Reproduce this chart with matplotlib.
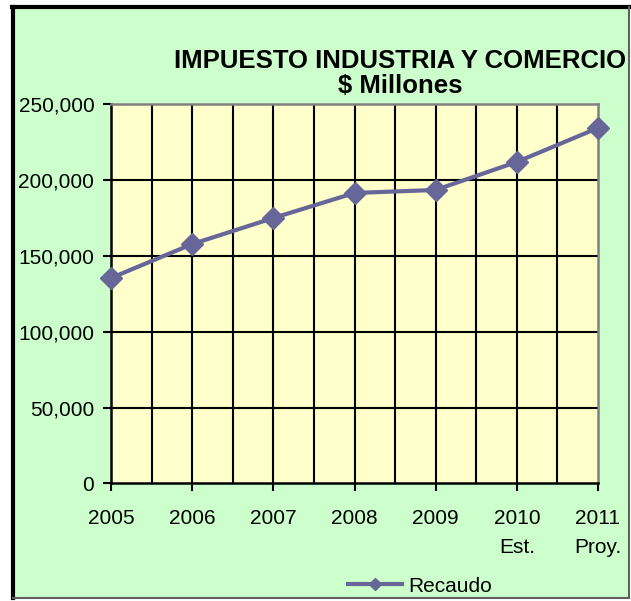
import matplotlib
matplotlib.use("Agg")
import matplotlib.pyplot as plt
from matplotlib.patches import Rectangle
from matplotlib.lines import Line2D

plt.rcParams['font.family'] = ['Liberation Sans', 'DejaVu Sans']

years = ["2005", "2006", "2007", "2008", "2009", "2010\nEst.", "2011\nProy."]
recaudo = [135400, 157800, 175000, 191500, 193500, 212000, 234400]
y_ticks = [0, 50000, 100000, 150000, 200000, 250000]
title_line1 = "IMPUESTO INDUSTRIA Y COMERCIO"
title_line2 = "$ Millones"
series_name = "Recaudo"

W, H = 631, 601
fig = plt.figure(figsize=(W / 100, H / 100), dpi=100)
fig.patch.set_facecolor("white")

def fx(px):
    return px / W

def fy(py):
    return 1 - py / H

# green chart area with border
fig.patches.append(Rectangle((fx(13), fy(598)), fx(629) - fx(13), fy(7) - fy(598),
                             transform=fig.transFigure, facecolor="#CCFFCC",
                             edgecolor="none", zorder=-5))
fig.add_artist(Line2D([fx(13), fx(13)], [fy(598), fy(7)], color="black", lw=3, transform=fig.transFigure))
fig.add_artist(Line2D([fx(11.5), fx(629)], [fy(7), fy(7)], color="black", lw=3, transform=fig.transFigure))
fig.add_artist(Line2D([fx(629), fx(629)], [fy(598), fy(7)], color="#606060", lw=1.5, transform=fig.transFigure))
fig.add_artist(Line2D([fx(13), fx(629)], [fy(598), fy(598)], color="#606060", lw=1.5, transform=fig.transFigure))

ax = fig.add_axes([fx(111), fy(483.3), fx(598) - fx(111), fy(104.3) - fy(483.3)])
ax.set_facecolor("#FFFFCC")
ax.set_zorder(1)

x = list(range(len(years)))
ax.set_xlim(0, len(years) - 1)
ax.set_ylim(0, 250000)

# grid
for v in [i * 0.5 for i in range(1, 2 * (len(years) - 1))]:
    ax.axvline(v, color="black", lw=1.5, zorder=1)
for t in y_ticks[1:-1]:
    ax.axhline(t, color="black", lw=1.5, zorder=1)

line, = ax.plot(x, recaudo, color="#666699", lw=3, marker="D", markersize=11,
                markerfacecolor="#666699", markeredgecolor="#666699",
                clip_on=False, zorder=5, label=series_name)

ax.set_xticks(x)
ax.set_xticklabels(years, fontsize=15, linespacing=1.65, va="top")
ax.set_yticks(y_ticks)
ax.set_yticklabels([f"{t:,}" for t in y_ticks], fontsize=15)
ax.tick_params(axis="x", length=6, width=1.5, pad=12.5, color="black")
ax.tick_params(axis="y", length=6, width=1.5, pad=6, color="black")

for s in ["left", "bottom"]:
    ax.spines[s].set_color("black")
    ax.spines[s].set_linewidth(1.8)
for s in ["top", "right"]:
    ax.spines[s].set_color("#808080")
    ax.spines[s].set_linewidth(1.8)

fig.text(fx(400), fy(61), title_line1, fontsize=18.5, fontweight="bold",
         ha="center", va="center")
fig.text(fx(400), fy(86), title_line2, fontsize=18.5, fontweight="bold",
         ha="center", va="center")

leg = fig.legend(handles=[line], loc="center", bbox_to_anchor=(fx(420), fy(586)),
                 frameon=False, fontsize=15, handlelength=2.6, handletextpad=0.3,
                 markerscale=0.6, borderpad=0, borderaxespad=0)

fig.savefig("out.png", dpi=100, facecolor="white")
